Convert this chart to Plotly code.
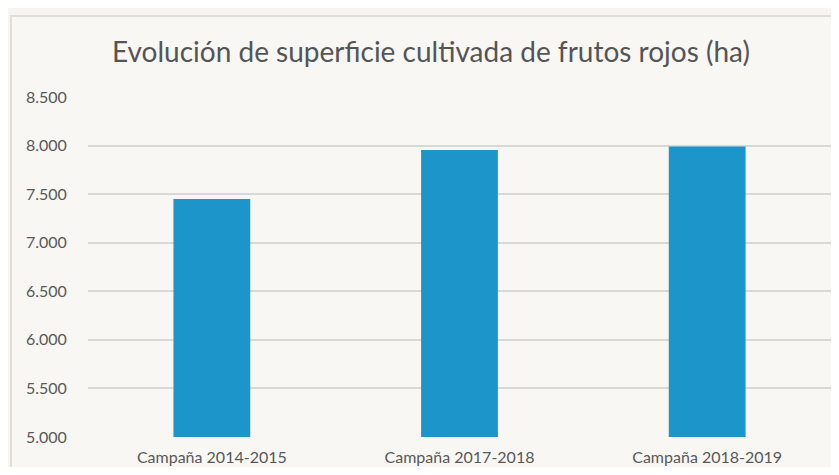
import plotly.graph_objects as go

categories = ["Campaña 2014-2015", "Campaña 2017-2018", "Campaña 2018-2019"]
values = [7450, 7955, 7990]
y_ticks = [5000, 5500, 6000, 6500, 7000, 7500, 8000, 8500]

# page has an 8px body margin; figure sized to fit the 839x475 window
W, H = 823, 459
ml, mr, mt, mb = 80, 0, 89, 30
pw, ph = W - ml - mr, H - mt - mb

def px_x(p):
    return (p - ml) / pw

def px_y(p):
    return (H - mb - p) / ph

fig = go.Figure(go.Bar(
    x=categories, y=values,
    marker=dict(color="#1b95ca", line=dict(width=0)),
    width=0.31,
))

fig.add_shape(type="rect", xref="paper", yref="paper",
              x0=px_x(3), x1=px_x(900), y0=px_y(600), y1=px_y(8),
              fillcolor="#f8f7f3", line=dict(color="#dfded9", width=2),
              layer="below")

fig.update_layout(
    width=W, height=H,
    margin=dict(l=ml, r=mr, t=mt, b=mb, autoexpand=False),
    paper_bgcolor="#f6f5f1",
    plot_bgcolor="rgba(0,0,0,0)",
    separators=",.",
    title=dict(text="Evolución de superficie cultivada de frutos rojos (ha)",
               x=px_x(423), xanchor="center", xref="paper",
               y=1 - 44 / H, yanchor="middle",
               font=dict(family="Lato", size=28, color="#555555")),
    font=dict(family="Lato", color="#595959"),
    showlegend=False,
    bargap=0.69,
)
fig.update_yaxes(range=[5000, 8500], tickvals=y_ticks, tickformat=",.0f",
                 showgrid=True, gridcolor="#d9d8d4", gridwidth=1.5,
                 zeroline=False, showline=False, automargin=False,
                 ticks="outside", ticklen=0, ticklabelstandoff=17,
                 tickfont=dict(size=16, color="#595959"))
fig.update_xaxes(showgrid=False, showline=False, zeroline=False,
                 automargin=False,
                 ticks="outside", ticklen=0, ticklabelstandoff=6,
                 tickfont=dict(size=16, color="#595959"))

fig.write_html("out.html")
